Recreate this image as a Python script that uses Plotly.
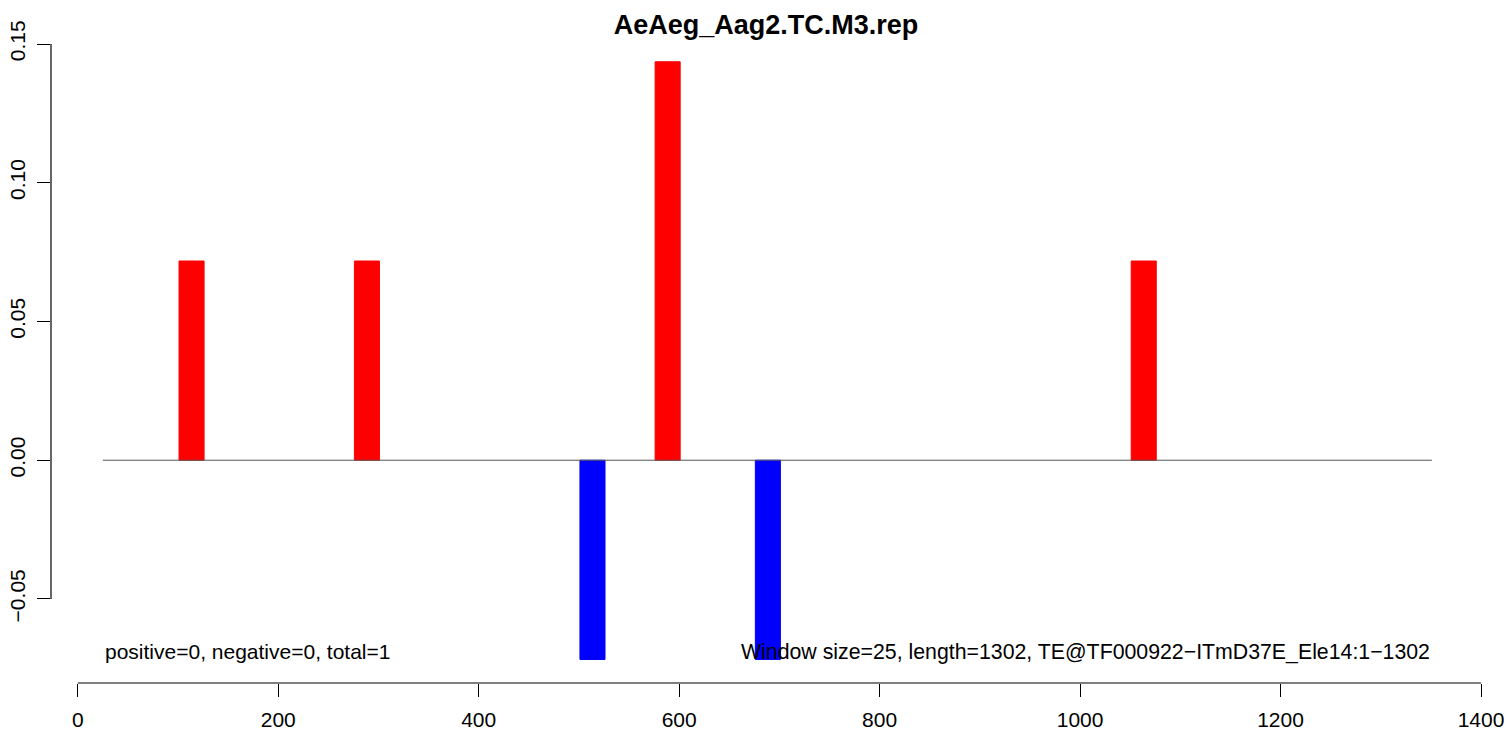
import plotly.graph_objects as go

# ---- data ----
window_start = [101, 276, 501, 576, 676, 1051]
window_size = 25
score = [0.0718, 0.0718, -0.0718, 0.1436, -0.0718, 0.0718]
baseline_from, baseline_to = 25, 1351
x_ticks = [0, 200, 400, 600, 800, 1000, 1200, 1400]
y_ticks = [-0.05, 0.0, 0.05, 0.10, 0.15]
y_ticktext = ["\u22120.05", "0.00", "0.05", "0.10", "0.15"]
title = "AeAeg_Aag2.TC.M3.rep"
left_note = "positive=0, negative=0, total=1"
right_note = "Window size=25, length=1302, TE@TF000922\u2212ITmD37E_Ele14:1\u22121302"

FONT = "Liberation Sans, Arial, Helvetica, sans-serif"
FS = 21
W, H = 1509, 734
colors = ["#FF0000" if v > 0 else "#0000FF" for v in score]

fig = go.Figure()
fig.add_trace(go.Bar(
    x=window_start, y=score, width=[window_size] * len(score), offset=0,
    marker=dict(color=colors, line=dict(color=colors, width=1)),
    hoverinfo="skip", showlegend=False,
))

fig.update_layout(
    width=W, height=H,
    margin=dict(l=51, r=28, t=44, b=51, autoexpand=False),
    paper_bgcolor="white", plot_bgcolor="white",
    font=dict(family=FONT, size=FS, color="black"),
    title=dict(text="<b>" + title + "</b>", x=0.5, xref="paper", xanchor="center",
               y=1 - 25 / H, yref="container", yanchor="middle",
               font=dict(family=FONT, size=27, color="black")),
    xaxis=dict(range=[-26.73, 1400], showgrid=False, zeroline=False, showline=False,
               automargin=False,
               tickmode="array", tickvals=x_ticks, ticks="outside", ticklen=13,
               tickwidth=1, tickcolor="black", tickfont=dict(size=FS),
               ticklabelstandoff=5),
    yaxis=dict(range=[-0.08028, 0.15], showgrid=False, zeroline=False, showline=False,
               automargin=False,
               tickmode="array", tickvals=y_ticks, ticktext=y_ticktext,
               ticks="outside", ticklen=13, tickwidth=1, tickcolor="black",
               tickangle=-90, tickfont=dict(size=FS), ticklabelstandoff=4),
    showlegend=False,
)

# R-style detached axis lines
fig.add_shape(type="line", xref="x", yref="paper", x0=x_ticks[0], x1=x_ticks[-1], y0=0, y1=0,
              line=dict(color="black", width=1.2))
fig.add_shape(type="line", xref="paper", yref="y", x0=0, x1=0, y0=y_ticks[0], y1=y_ticks[-1],
              line=dict(color="black", width=1.2))
# baseline at zero
fig.add_shape(type="line", xref="x", yref="y", x0=baseline_from, x1=baseline_to, y0=0, y1=0,
              line=dict(color="#555555", width=1), layer="above")

fig.add_annotation(x=baseline_from, y=-0.069, xref="x", yref="y", text=left_note,
                   showarrow=False, xanchor="left", yanchor="middle",
                   font=dict(family=FONT, size=FS, color="black"))
fig.add_annotation(x=baseline_to, y=-0.069, xref="x", yref="y", text=right_note,
                   showarrow=False, xanchor="right", yanchor="middle",
                   font=dict(family=FONT, size=21.3, color="black"))

fig.write_html("out.html", config={"displayModeBar": False},
               post_script="document.body.style.margin='0';document.body.style.overflow='hidden';")
